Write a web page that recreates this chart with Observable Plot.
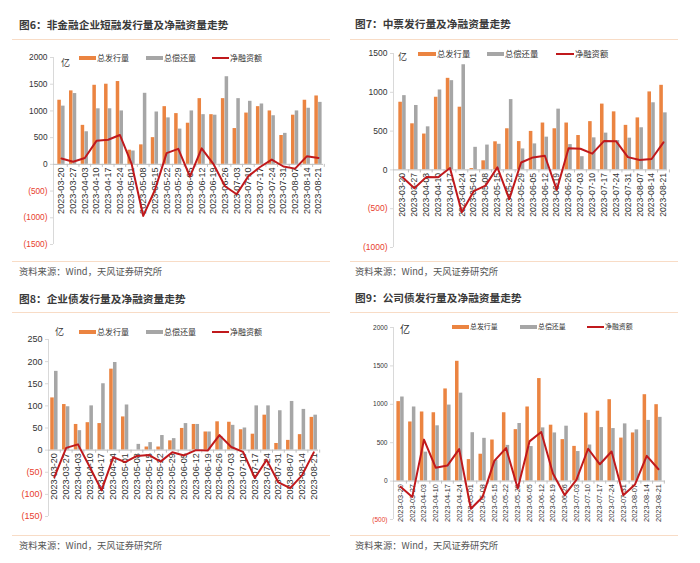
<!DOCTYPE html>
<html><head><meta charset="utf-8">
<script src="https://cdn.jsdelivr.net/npm/d3@7"></script>
<script src="https://cdn.jsdelivr.net/npm/@observablehq/plot@0.6"></script>
<style>
body{margin:0;background:#fff;}
#root{position:relative;width:700px;height:563px;overflow:hidden;font-family:"Noto Sans CJK SC",sans-serif;}
.abs{position:absolute;white-space:nowrap;line-height:1;}
.title{font-size:10.7px;font-weight:bold;color:#3a3a3a;}
.src{font-size:9.3px;color:#555;}
.sep{position:absolute;height:1px;background:#F8DCC6;}
.sw{position:absolute;}
svg{position:absolute;overflow:visible;}
</style></head><body><div id="root"></div>
<script>
const dates = ["2023-03-20","2023-03-27","2023-04-03","2023-04-10","2023-04-17","2023-04-24","2023-05-01","2023-05-08","2023-05-15","2023-05-22","2023-05-29","2023-06-05","2023-06-12","2023-06-19","2023-06-26","2023-07-03","2023-07-10","2023-07-17","2023-07-24","2023-07-31","2023-08-07","2023-08-14","2023-08-21"];
const seriesNames = ["总发行量","总偿还量","净融资额"];

// 图6 非金融企业短融
const f6Issue = [1200,1375,730,1480,1500,1550,265,365,500,1080,950,770,1230,930,1230,670,960,1080,1000,540,920,1200,1280];
const f6Repay = [1090,1325,610,1040,1040,1000,250,1330,980,870,660,1000,930,920,1640,1230,1180,1130,910,580,1000,1050,1160];
const f6Net   = [110,50,120,440,460,550,15,-965,-480,210,290,-230,300,10,-410,-560,-220,-50,90,-40,-80,150,120];
const f6Ticks = [2000,1500,1000,500,0,-500,-1000,-1500];

// 图7 中票
const f7Issue = [872,594,462,936,1180,808,17,117,362,530,365,496,604,530,604,443,622,848,748,574,670,1005,1090];
const f7Repay = [957,830,555,1030,1150,1355,291,320,330,906,270,335,422,783,326,170,413,474,378,409,543,865,735];
const f7Net   = [-95,-236,-93,-94,25,-547,-274,-203,32,-376,95,161,182,-258,278,273,209,374,370,165,127,140,355];
const f7Ticks = [1500,1000,500,0,-500,-1000];

// 图8 企业债
const f8Issue = [118,103,58,62,60,183,75,0,7,7,21,49,58,41,64,63,46,36,79,15,22,35,74];
const f8Repay = [178,98,44,100,150,198,102,13,17,33,26,60,58,41,30,56,50,100,100,89,110,92,79];
const f8Net   = [-61,5,13,-38,-91,-16,-27,-13,-11,-26,-5,-12,0,-1,34,7,-4,-63,-22,-73,-86,-57,-5];
const f8Ticks = [250,200,150,100,50,0,-50,-100,-150];

// 图9 公司债
const f9Issue = [1035,770,900,890,1200,1560,280,350,535,890,670,965,1335,728,540,452,885,910,1060,560,627,1125,995];
const f9Repay = [1095,965,377,720,990,1145,630,557,270,465,750,450,693,627,715,385,470,697,684,745,667,790,830];
const f9Net   = [-75,-206,540,175,202,417,-360,-206,263,430,-96,517,640,100,-184,15,421,219,386,-184,-44,329,154];
const f9Ticks = [2000,1500,1000,500,0,-500];

const ORANGE = "#EB8441", GRAY = "#A6A6A6", RED = "#C0191C", NEGRED = "#E8402E";
const root = document.getElementById("root");

function addDiv(cls, left, top, text, extra) {
  const d = document.createElement("div");
  d.className = cls;
  d.style.left = left + "px"; d.style.top = top + "px";
  if (text) d.textContent = text;
  if (extra) Object.assign(d.style, extra);
  root.appendChild(d);
  return d;
}

const panels = [
  {title:"图6：非金融企业短融发行量及净融资量走势", issue:f6Issue, repay:f6Repay, net:f6Net, ticks:f6Ticks,
   px:19, titleY:20, sepX:12, sepW:318, sepTop:39, sepBot:261, srcY:267,
   axL:53, axR:323, yTop:57, yBot:244, xdom:[-0.68,22.43], svgL:0, svgT:45,
   yFont:8.3, dFont:9.1, legY:58, legFont:8, yi:[61,58], yiFont:9,
   leg:[[79,97],[146,164],[212,230]]},
  {title:"图7：中票发行量及净融资量走势", issue:f7Issue, repay:f7Repay, net:f7Net, ticks:f7Ticks,
   px:355, titleY:19, sepX:350, sepW:328, sepTop:39, sepBot:261, srcY:267,
   axL:393, axR:667, yTop:53, yBot:247, xdom:[-0.76,22.34], svgL:345, svgT:41,
   yFont:8.5, dFont:8.6, legY:54, legFont:8.3, yi:[398,52], yiFont:9,
   leg:[[418,437],[487,505],[556,575]]},
  {title:"图8：企业债发行量及净融资量走势", issue:f8Issue, repay:f8Repay, net:f8Net, ticks:f8Ticks,
   px:19, titleY:294, sepX:12, sepW:318, sepTop:312, sepBot:535, srcY:541,
   axL:48, axR:318, yTop:339, yBot:516, xdom:[-0.5,22.4], svgL:0, svgT:325,
   yFont:9, dFont:9.1, legY:332, legFont:8, yi:[55,327], yiFont:9,
   leg:[[79,97],[146,164],[212,230]]},
  {title:"图9：公司债发行量及净融资量走势", issue:f9Issue, repay:f9Repay, net:f9Net, ticks:f9Ticks,
   px:355, titleY:293, sepX:350, sepW:328, sepTop:312, sepBot:535, srcY:541,
   axL:393, axR:665, yTop:327, yBot:519, xdom:[-0.6,22.6], svgL:345, svgT:318,
   yFont:6.5, dFont:7.4, legY:327, legFont:6.9, yi:[400,324], yiFont:10,
   leg:[[452,470],[520,538],[587,605]]}
];

for (const p of panels) {
  addDiv("abs title", p.px, p.titleY, p.title);
  addDiv("sep", p.sepX, p.sepTop, null, {width: p.sepW + "px"});
  addDiv("sep", p.sepX, p.sepBot, null, {width: p.sepW + "px"});
  addDiv("abs src", p.px, p.srcY, "资料来源：Wind，天风证券研究所");
  addDiv("abs", p.yi[0], p.yi[1], "亿", {fontSize: p.yiFont + "px", color: "#333"});
  // legend
  const swColors = [ORANGE, GRAY, RED];
  p.leg.forEach(([sx, tx], k) => {
    const h = k === 2 ? 2 : 4.5;
    addDiv("sw", sx, p.legY - h / 2, null, {width: (tx - sx - 1) + "px", height: h + "px", background: swColors[k]});
    addDiv("abs", tx, p.legY - p.legFont * 0.55, seriesNames[k], {fontSize: p.legFont + "px", color: "#333"});
  });

  const rows = dates.map((d, i) => ({i, date: d, issue: p.issue[i], repay: p.repay[i], net: p.net[i]}));
  const ydom = [p.ticks[p.ticks.length - 1], p.ticks[0]];
  const posT = p.ticks.filter(t => t >= 0), negT = p.ticks.filter(t => t < 0);
  const mr = 10, mb = 10;
  const W = p.axR + mr - p.svgL, H = p.yBot + mb - p.svgT;
  const bw = 0.31, gap = 0.01;
  const tickLen = (ydom[1] - ydom[0]) * 3 / (p.yBot - p.yTop);
  const chart = Plot.plot({
    width: W, height: H,
    marginLeft: p.axL - p.svgL, marginRight: mr,
    marginTop: p.yTop - p.svgT, marginBottom: mb,
    x: {domain: p.xdom, axis: null},
    y: {domain: ydom, axis: null},
    style: {fontFamily: '"Liberation Sans","Noto Sans CJK SC",sans-serif', background: "transparent", color: "#333"},
    marks: [
      Plot.ruleX([p.xdom[0]], {y1: ydom[0], y2: ydom[1], stroke: "#D9D9D9"}),
      Plot.axisY(posT, {anchor: "left", tickSize: 3, tickPadding: 3, stroke: "#D9D9D9", fill: "#333", fontSize: p.yFont, tickFormat: d => String(d)}),
      Plot.axisY(negT, {anchor: "left", tickSize: 3, tickPadding: 3, stroke: "#D9D9D9", fill: NEGRED, fontSize: p.yFont, tickFormat: d => `(${-d})`}),
      Plot.rectY(rows, {x1: d => d.i - bw, x2: d => d.i - gap, y1: 0, y2: "issue", fill: ORANGE}),
      Plot.rectY(rows, {x1: d => d.i + gap, x2: d => d.i + bw, y1: 0, y2: "repay", fill: GRAY}),
      Plot.ruleY([0], {stroke: "#BFBFBF"}),
      Plot.ruleX(rows, {x: d => d.i + 0.5, y1: 0, y2: -tickLen, stroke: "#BFBFBF"}),
      Plot.text(rows, {x: "i", y: 0, text: "date", rotate: -90, textAnchor: "end", dy: 3, fontSize: p.dFont, fill: "#333"}),
      Plot.line(rows, {x: "i", y: "net", stroke: RED, strokeWidth: 2})
    ]
  });
  chart.style.left = p.svgL + "px";
  chart.style.top = p.svgT + "px";
  root.appendChild(chart);
}
</script>
</body></html>
